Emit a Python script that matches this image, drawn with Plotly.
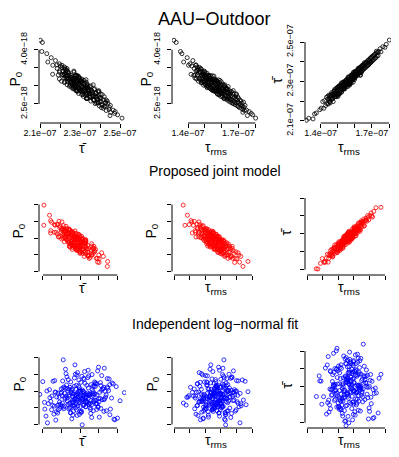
import numpy as np
import plotly.graph_objects as go

# ---------------- DATA (tau in ns, P0 in units of 1e-18) ----------------
# Row 1: measured (AAU-Outdoor)
meas_tau_rms = [131.6, 133.0, 135.5, 136.4, 137.4, 139.5, 140.3, 180.2, 178.4, 176.4, 175.3, 174.8, 177.6, 172.6,
    141.2, 141.8, 142.3, 142.9, 143.4, 143.7, 144.1, 144.5, 144.8, 145.0,
    145.3, 145.6, 145.9, 146.2, 146.4, 146.8, 147.1, 147.3, 147.6, 147.9,
    148.2, 148.4, 148.7, 148.9, 149.1, 149.3, 149.5, 149.7, 149.8, 150.0,
    150.2, 150.4, 150.5, 150.7, 150.9, 151.1, 151.3, 151.5, 151.6, 151.8,
    152.0, 152.2, 152.4, 152.6, 152.8, 153.0, 153.2, 153.4, 153.6, 153.8,
    154.0, 154.2, 154.5, 154.7, 154.9, 155.1, 155.3, 155.5, 155.7, 155.9,
    156.1, 156.3, 156.5, 156.7, 156.9, 157.1, 157.3, 157.5, 157.7, 157.9,
    158.1, 158.3, 158.5, 158.7, 158.9, 159.1, 159.3, 159.5, 159.7, 159.9,
    160.1, 160.4, 160.6, 160.8, 161.1, 161.3, 161.6, 161.8, 162.1, 162.3,
    162.6, 162.8, 163.0, 163.3, 163.5, 163.7, 164.0, 164.2, 164.4, 164.6,
    164.8, 165.0, 165.3, 165.6, 165.9, 166.2, 166.5, 166.8, 167.0, 167.3,
    167.5, 167.8, 168.0, 168.3, 168.6, 168.8, 169.1, 169.3, 169.5, 169.7,
    169.9, 170.0, 170.3, 170.6, 170.9, 171.2, 171.5, 171.8, 172.1, 172.4,
    172.7, 173.0, 173.3, 173.6, 173.9,
    146.7, 152.3, 158.6, 149.4, 161.9, 155.2, 144.9, 163.4, 150.8, 157.4,
    166.3, 153.5, 148.1, 159.8, 154.6, 162.7, 151.4, 156.0, 145.7, 160.3,
    147.2, 164.9, 152.9, 158.0, 150.1, 155.8, 167.8, 149.9, 161.2, 153.9,
    156.8, 146.1, 159.2, 163.9, 151.9, 157.9, 154.1, 148.6, 162.2, 155.4,
    160.9, 150.4, 165.6, 152.5, 157.0, 147.9, 158.9, 153.2, 161.5, 149.0,
    156.3, 168.7, 151.1, 159.5, 154.4, 164.3, 145.4, 157.6, 162.9, 150.6,
    155.6, 160.7, 148.9, 153.7, 166.9, 158.3, 152.1, 156.6, 144.2, 163.1,
    159.0, 151.7, 154.9, 161.7, 149.6, 157.2, 165.1, 153.0, 160.0, 147.5]
meas_tau_bar = [210.2, 211.2, 210.9, 213.4, 213.9, 215.6, 216.4, 251.0, 248.8, 247.6, 245.0, 246.6, 247.3, 245.3,
    219.7, 216.3, 220.2, 217.7, 221.9, 218.6, 222.4, 218.5, 223.0, 219.7,
    222.3, 219.1, 223.3, 220.7, 224.3, 221.1, 223.3, 219.7, 224.8, 222.2,
    225.4, 222.2, 224.0, 226.3, 222.2, 225.2, 223.1, 226.9, 223.6, 225.6,
    223.0, 226.9, 224.3, 227.7, 224.7, 226.8, 224.3, 228.1, 225.3, 227.3,
    224.5, 228.5, 225.7, 227.4, 229.2, 226.1, 228.4, 226.5, 229.9, 227.1,
    229.0, 226.3, 230.1, 227.8, 230.6, 228.1, 230.9, 228.4, 230.0, 231.9,
    228.7, 230.9, 229.0, 232.0, 229.8, 232.2, 229.3, 231.4, 233.1, 230.3,
    232.4, 230.9, 233.6, 231.1, 233.0, 231.4, 234.2, 231.7, 233.5, 232.2,
    234.6, 232.4, 234.9, 232.7, 235.4, 233.1, 235.5, 233.5, 236.2, 233.9,
    236.5, 234.3, 237.1, 234.7, 237.3, 235.1, 237.9, 235.4, 237.3, 235.8,
    238.4, 236.1, 238.7, 236.6, 239.0, 236.9, 239.5, 237.6, 239.9, 237.9,
    240.5, 238.4, 240.9, 238.8, 241.1, 239.2, 241.8, 239.6, 242.1, 239.9,
    242.3, 240.4, 242.8, 240.7, 243.1, 241.2, 243.6, 241.7, 244.0, 242.1,
    244.5, 242.8, 244.7, 243.1, 245.2,
    223.5, 224.6, 232.4, 223.4, 236.6, 227.4, 221.0, 233.2, 227.3, 230.4,
    239.1, 226.3, 225.8, 230.9, 229.3, 234.5, 227.4, 227.4, 221.4, 235.1,
    221.4, 237.8, 226.8, 233.0, 222.3, 230.7, 238.2, 227.0, 233.2, 228.3,
    228.4, 222.6, 234.7, 234.6, 226.5, 229.1, 229.7, 223.2, 236.0, 228.4,
    234.3, 223.6, 239.5, 227.3, 228.2, 224.9, 230.8, 228.3, 233.9, 222.3,
    232.3, 240.2, 223.7, 233.6, 227.7, 237.9, 219.8, 231.5, 233.0, 227.3,
    228.3, 233.6, 225.2, 226.0, 239.3, 231.1, 229.2, 228.7, 221.0, 237.0,
    229.6, 226.6, 230.6, 233.4, 225.7, 229.0, 236.7, 229.4, 231.7, 223.5]
meas_p0 = [4.26, 4.20, 3.95, 3.89, 3.66, 3.78, 3.57, 2.11, 2.20, 2.29, 2.18, 2.33, 2.24, 2.27,
    3.61, 3.32, 3.55, 3.70, 3.29, 3.48, 3.22, 3.58, 3.41, 3.19,
    3.52, 3.30, 3.44, 3.13, 3.36, 3.51, 3.20, 3.38, 3.15, 3.46,
    3.29, 3.09, 3.40, 3.18, 3.33, 3.02, 3.27, 3.41, 3.11, 3.24,
    3.36, 3.05, 3.21, 3.30, 2.99, 3.17, 3.35, 3.08, 3.23, 3.01,
    3.19, 3.28, 2.96, 3.12, 3.25, 3.03, 3.16, 2.92, 3.21, 3.07,
    2.95, 3.18, 3.03, 2.88, 3.14, 3.00, 3.19, 2.86, 3.08, 2.95,
    3.13, 2.84, 3.02, 3.15, 2.90, 3.06, 2.79, 2.97, 3.10, 2.85,
    3.01, 2.76, 2.93, 3.08, 2.82, 2.98, 2.87, 2.71, 3.03, 2.90,
    2.79, 2.95, 2.70, 2.86, 3.00, 2.77, 2.88, 2.65, 2.83, 2.96,
    2.71, 2.84, 2.62, 2.79, 2.92, 2.68, 2.81, 2.58, 2.74, 2.87,
    2.63, 2.77, 2.55, 2.72, 2.84, 2.60, 2.70, 2.51, 2.66, 2.79,
    2.57, 2.69, 2.48, 2.64, 2.76, 2.53, 2.62, 2.45, 2.70, 2.56,
    2.43, 2.66, 2.52, 2.40, 2.61, 2.47, 2.58, 2.38, 2.52, 2.44,
    2.35, 2.55, 2.41, 2.32, 2.46,
    3.19, 3.29, 2.75, 3.29, 3.03, 2.98, 3.57, 2.65, 3.21, 3.12,
    2.53, 3.20, 3.22, 3.11, 2.93, 2.90, 2.95, 3.19, 3.31, 2.79,
    3.41, 2.80, 2.94, 3.17, 3.12, 3.15, 2.53, 3.38, 2.66, 3.10,
    2.91, 3.47, 2.87, 2.98, 2.99, 3.05, 2.89, 3.28, 2.71, 3.27,
    2.84, 3.03, 2.84, 3.06, 3.15, 3.08, 2.99, 3.29, 2.65, 3.33,
    2.90, 2.78, 3.22, 2.78, 3.28, 2.69, 3.42, 2.77, 2.93, 3.17,
    2.86, 3.05, 3.11, 3.12, 2.87, 2.89, 3.27, 2.85, 3.30, 2.90,
    3.15, 3.16, 2.87, 3.00, 3.11, 2.96, 2.62, 3.22, 2.86, 3.48]

# Row 2: proposed joint model samples
model_tau_rms = [135.9, 137.0, 138.6, 139.8, 140.9, 141.7, 142.4, 143.0, 143.6, 144.1,
    144.7, 145.1, 145.6, 146.0, 146.4, 146.8, 147.1, 147.5, 147.8, 148.1,
    148.4, 148.7, 149.0, 149.2, 149.5, 149.7, 150.0, 150.2, 150.4, 150.7,
    150.9, 151.1, 151.3, 151.5, 151.7, 151.9, 152.1, 152.3, 152.5, 152.7,
    152.9, 153.0, 153.2, 153.4, 153.5, 153.7, 153.9, 154.0, 154.2, 154.4,
    154.5, 154.7, 154.8, 155.0, 155.2, 155.3, 155.5, 155.6, 155.8, 156.0,
    156.1, 156.3, 156.4, 156.6, 156.8, 156.9, 157.1, 157.2, 157.4, 157.6,
    157.7, 157.9, 158.0, 158.2, 158.4, 158.5, 158.7, 158.9, 159.0, 159.2,
    159.4, 159.6, 159.8, 160.0, 160.2, 160.4, 160.6, 160.8, 161.0, 161.2,
    161.4, 161.7, 161.9, 162.1, 162.4, 162.6, 162.9, 163.1, 163.4, 163.7,
    164.0, 164.3, 164.6, 164.9, 165.2, 165.6, 166.0, 166.4, 166.8, 167.3,
    167.8, 168.3, 168.9, 169.6, 170.3, 171.1, 172.0, 172.8, 174.2, 177.4,
    150.1, 151.0, 152.0, 153.1, 154.1, 155.1, 156.2, 157.0, 158.1, 159.1,
    160.1, 161.1, 162.0, 149.4, 147.3, 145.8, 163.9, 165.0, 157.5, 155.7,
    154.6, 153.6, 158.6, 160.5, 156.5, 152.6, 151.6, 159.9, 161.5, 168.0,
    153.4, 159.1, 148.2, 162.5, 156.8, 151.3, 164.7, 157.9, 146.6, 160.2,
    154.9, 166.5, 150.5, 158.7, 143.8, 155.6, 161.4, 152.2, 157.3, 169.2,
    149.3, 156.1, 163.3, 153.9, 159.6, 147.4, 155.0, 162.0, 151.8, 158.2,
    144.9, 160.8, 154.3, 157.6, 165.9, 150.0, 156.4, 161.9, 152.8, 159.4,
    148.7, 155.3, 163.8, 153.1, 158.9, 171.6, 151.0, 157.0, 160.5, 154.6,
    145.9, 162.8, 156.9, 149.8, 159.9, 152.5, 167.3, 155.9, 141.4, 158.4]
model_tau_bar = [210.5, 210.4, 213.5, 216.2, 214.1, 214.1, 216.5, 218.6, 214.2, 218.4,
    217.9, 220.7, 217.6, 220.2, 217.1, 220.0, 221.6, 219.9, 223.8, 219.2,
    222.1, 221.1, 224.1, 219.7, 223.4, 221.5, 222.8, 221.2, 225.6, 223.0,
    224.9, 220.7, 224.2, 222.7, 225.7, 223.6, 224.3, 226.4, 222.9, 225.6,
    222.5, 226.1, 225.0, 228.3, 224.4, 226.1, 223.8, 227.2, 225.3, 228.5,
    225.1, 226.6, 228.2, 224.1, 227.7, 226.5, 229.6, 225.7, 227.7, 226.6,
    229.5, 225.5, 228.4, 227.8, 231.0, 227.1, 228.7, 225.8, 229.9, 228.2,
    231.0, 227.5, 229.2, 230.8, 227.5, 230.4, 229.4, 232.5, 228.6, 230.7,
    228.1, 231.5, 229.9, 233.1, 229.7, 231.3, 233.0, 228.6, 232.3, 231.3,
    234.0, 231.2, 232.8, 230.2, 234.1, 232.9, 235.9, 231.7, 234.2, 233.0,
    235.9, 232.3, 234.9, 237.3, 233.9, 236.3, 235.4, 238.3, 234.5, 237.4,
    238.7, 237.0, 240.2, 237.8, 240.2, 241.6, 239.4, 242.5, 244.6, 244.8,
    224.3, 221.5, 225.1, 224.5, 228.5, 225.5, 227.8, 225.2, 230.2, 229.9,
    233.9, 230.1, 233.0, 219.5, 222.4, 218.4, 231.4, 236.4, 227.7, 229.2,
    226.0, 226.7, 227.4, 231.9, 230.8, 223.6, 224.1, 229.9, 233.5, 237.7,
    227.2, 227.5, 222.0, 232.2, 231.4, 222.2, 236.2, 228.9, 217.6, 233.4,
    225.7, 234.4, 225.0, 230.3, 216.2, 228.3, 229.0, 224.7, 226.9, 239.2,
    221.5, 230.3, 232.5, 227.2, 228.3, 222.1, 226.4, 234.6, 221.6, 229.8,
    219.0, 230.2, 229.0, 228.0, 236.9, 222.6, 225.9, 232.8, 226.5, 229.7,
    220.0, 227.8, 236.3, 222.0, 231.2, 240.0, 224.0, 226.3, 233.0, 225.2,
    221.4, 233.0, 229.2, 220.8, 230.9, 223.9, 237.4, 229.9, 214.6, 226.7]
model_p0 = [3.98, 3.38, 3.68, 3.40, 3.52, 3.15, 3.38, 3.50, 3.22, 3.03,
    3.41, 3.27, 3.12, 3.48, 3.17, 3.30, 3.01, 3.24, 3.15, 3.35,
    3.04, 3.37, 3.06, 3.17, 2.92, 3.27, 3.07, 3.20, 2.95, 3.28,
    2.83, 3.13, 3.21, 2.95, 3.06, 2.87, 3.25, 2.96, 3.11, 2.80,
    3.13, 2.92, 3.17, 2.98, 2.75, 3.10, 2.93, 3.21, 2.83, 2.99,
    3.11, 2.75, 3.02, 2.87, 3.14, 2.77, 2.95, 2.66, 3.05, 2.88,
    3.09, 2.79, 2.96, 2.66, 2.98, 2.80, 3.11, 2.72, 2.87, 3.02,
    2.66, 2.93, 2.78, 3.05, 2.70, 2.87, 2.61, 2.93, 2.77, 2.97,
    2.63, 2.86, 2.54, 2.92, 2.76, 2.65, 2.95, 2.66, 2.86, 2.54,
    2.78, 2.94, 2.58, 2.74, 2.48, 2.84, 2.63, 2.77, 2.49, 2.86,
    2.55, 2.76, 2.39, 2.68, 2.58, 2.76, 2.42, 2.66, 2.47, 2.75,
    2.39, 2.54, 2.27, 2.59, 2.38, 2.56, 2.28, 2.45, 2.15, 2.30,
    3.24, 2.89, 3.09, 2.73, 3.05, 3.19, 2.77, 2.90, 2.57, 3.04,
    2.67, 2.80, 2.89, 3.04, 3.35, 3.04, 2.67, 2.49, 2.98, 2.68,
    3.15, 2.84, 3.03, 2.58, 2.89, 3.10, 2.76, 2.88, 2.66, 2.62,
    2.78, 2.97, 3.21, 2.45, 2.99, 2.97, 2.83, 2.69, 3.40, 2.72,
    3.19, 2.45, 2.90, 2.89, 3.17, 3.05, 2.74, 2.81, 3.06, 2.39,
    3.23, 2.71, 2.82, 3.03, 2.67, 3.02, 3.16, 2.68, 3.13, 2.58,
    3.31, 2.92, 2.88, 2.65, 2.70, 3.25, 2.77, 2.92, 2.98, 2.86,
    2.97, 2.93, 2.50, 3.18, 2.74, 2.49, 3.27, 2.78, 2.52, 3.07,
    3.16, 2.73, 3.11, 3.00, 2.59, 3.05, 2.69, 2.75, 3.47, 2.96]

# Row 3: independent log-normal fit samples
indep_tau_rms = [161.3, 149.8, 157.2, 170.5, 152.6, 163.9, 145.1, 158.8, 166.4, 154.0,
    159.7, 148.3, 172.9, 156.1, 162.7, 151.2, 143.6, 160.4, 168.1, 155.5,
    157.9, 164.8, 147.0, 153.3, 175.6, 159.0, 150.7, 165.5, 141.8, 158.2,
    162.0, 154.8, 169.3, 146.5, 160.9, 156.7, 152.0, 163.4, 149.1, 171.7,
    157.5, 136.0, 161.8, 155.0, 166.9, 151.6, 159.4, 144.7, 164.2, 158.6,
    153.9, 167.6, 148.8, 162.3, 156.4, 173.8, 150.3, 160.1, 145.9, 157.0,
    163.1, 152.9, 168.7, 155.8, 159.9, 147.6, 165.0, 154.3, 161.0, 139.5,
    158.0, 170.0, 151.9, 163.7, 149.5, 156.9, 166.1, 153.6, 160.6, 144.1,
    157.7, 162.5, 150.0, 167.2, 155.3, 177.4, 159.2, 148.0, 164.5, 152.3,
    161.5, 146.2, 169.8, 156.2, 158.4, 143.0, 163.0, 154.6, 171.2, 150.9,
    160.3, 157.3, 165.8, 149.4, 162.9, 155.7, 147.9, 168.4, 153.1, 159.6,
    142.5, 164.0, 156.0, 174.5, 151.4, 161.6, 158.9, 145.4, 166.7, 152.7,
    160.0, 154.2, 170.8, 148.6, 157.8, 163.6, 150.5, 138.2, 165.3, 155.2,
    159.8, 167.9, 146.8, 161.1, 153.4, 172.3, 157.1, 149.0, 162.2, 156.5,
    144.4, 164.6, 151.0, 158.3, 169.0, 154.9, 160.7, 147.3, 163.3, 155.9,
    155.4, 163.2, 148.9, 159.5, 170.1, 152.8, 157.6, 145.8, 161.9, 154.7,
    166.0, 150.2, 158.9, 162.6, 147.2, 156.3, 173.1, 153.5, 160.2, 143.3,
    157.0, 164.4, 151.5, 159.2, 168.5, 155.1, 149.7, 161.3, 137.8, 156.8,
    163.8, 152.1, 158.1, 146.3, 165.2, 154.4, 160.9, 150.8, 157.4, 171.0,
    153.0, 159.7, 144.9, 162.1, 155.7, 167.1, 149.2, 158.5, 152.4, 176.2,
    156.1, 161.4, 147.8, 154.0, 163.5, 140.6, 157.9, 165.7, 151.3, 159.0,
    154.5, 169.4, 148.4, 160.5, 156.6, 146.9, 162.9, 153.8, 158.3, 150.4,
    164.1, 155.9, 143.9, 161.1, 157.3, 152.6, 167.8, 159.9, 149.0, 155.0,
    160.0, 145.1, 163.0, 156.4, 151.8, 172.4, 158.7, 153.2, 166.4, 148.1,
    157.1, 161.7, 139.0, 154.8, 164.8, 150.9, 159.3, 155.6, 162.4, 147.5]
indep_tau_bar = [226.4, 238.9, 221.3, 233.7, 229.0, 244.6, 217.8, 231.5, 236.2, 224.1,
    241.8, 228.3, 212.9, 235.0, 230.6, 222.7, 246.9, 227.5, 239.4, 219.6,
    232.8, 225.3, 248.7, 230.1, 215.4, 237.3, 223.8, 234.4, 240.5, 227.0,
    220.9, 243.1, 229.7, 236.8, 214.2, 231.9, 226.0, 238.2, 218.7, 233.1,
    245.3, 224.6, 230.9, 208.3, 235.7, 221.9, 242.7, 228.8, 216.5, 239.9,
    227.9, 232.3, 250.1, 223.2, 237.9, 229.3, 219.1, 234.9, 225.7, 241.2,
    231.1, 213.7, 236.5, 226.8, 244.0, 222.4, 233.5, 228.1, 247.8, 220.3,
    235.4, 230.3, 217.2, 240.8, 224.9, 232.0, 253.8, 227.2, 238.6, 215.9,
    229.5, 243.7, 221.0, 234.1, 226.2, 237.0, 211.6, 231.4, 245.9, 223.5,
    239.1, 228.6, 218.2, 233.9, 230.0, 242.2, 225.0, 236.0, 220.6, 231.7,
    227.7, 249.4, 224.3, 235.2, 216.9, 232.6, 240.2, 229.9, 222.1, 238.4,
    214.8, 230.7, 244.9, 226.6, 234.6, 219.9, 237.6, 228.4, 241.5, 223.0,
    232.2, 210.8, 236.9, 225.5, 243.4, 229.2, 218.5, 233.3, 227.4, 246.3,
    221.6, 235.9, 230.4, 239.6, 224.0, 212.4, 231.2, 240.0, 226.9, 234.7,
    220.0, 237.1, 228.0, 242.9, 223.9, 232.4, 216.1, 238.0, 229.6, 225.8,
    233.8, 222.0, 239.7, 227.6, 216.3, 231.0, 244.1, 225.2, 235.9, 219.4,
    228.9, 241.6, 224.7, 236.7, 230.8, 213.5, 226.3, 247.2, 232.5, 221.2,
    238.1, 229.4, 218.0, 234.3, 225.9, 242.8, 231.6, 223.3, 236.1, 209.9,
    228.2, 240.3, 220.7, 233.0, 226.5, 245.6, 230.2, 217.4, 237.5, 224.2,
    231.8, 214.6, 239.0, 227.3, 235.3, 222.9, 251.5, 229.0, 219.8, 234.8,
    226.1, 243.0, 230.5, 216.8, 237.2, 224.5, 232.9, 221.7, 240.9, 228.7,
    235.6, 212.1, 227.9, 238.7, 223.6, 231.3, 246.0, 225.6, 233.6, 218.9,
    229.8, 241.1, 222.6, 236.4, 227.1, 215.2, 232.1, 244.6, 226.4, 234.0,
    220.4, 238.5, 230.6, 224.8, 242.3, 228.5, 217.9, 235.0, 231.9, 223.1,
    239.3, 226.8, 233.2, 211.0, 229.1, 237.8, 221.5, 232.7, 248.2, 227.8]
indep_p0 = [2.91, 2.45, 3.12, 2.68, 2.83, 3.37, 2.57, 2.99, 2.21, 3.05,
    2.74, 3.48, 2.62, 2.88, 2.36, 3.18, 2.79, 2.50, 3.60, 2.93,
    2.66, 3.02, 2.14, 2.85, 3.29, 2.71, 2.47, 3.09, 2.96, 2.59,
    3.93, 2.77, 2.40, 3.14, 2.69, 2.87, 2.28, 3.24, 2.81, 2.53,
    3.01, 2.64, 3.44, 2.90, 2.33, 2.76, 3.11, 2.56, 2.97, 3.71,
    2.61, 2.84, 2.19, 3.07, 2.73, 3.33, 2.48, 2.92, 2.67, 3.16,
    1.99, 2.80, 3.04, 2.55, 2.89, 3.52, 2.70, 2.43, 3.21, 2.86,
    2.63, 3.00, 2.38, 2.78, 3.27, 2.58, 2.95, 3.78, 2.72, 2.31,
    3.10, 2.82, 2.52, 3.40, 2.65, 2.98, 2.25, 2.75, 3.19, 2.60,
    2.88, 3.55, 2.44, 2.94, 2.69, 3.06, 2.35, 2.83, 3.30, 2.57,
    2.76, 3.13, 2.49, 2.90, 2.13, 3.23, 2.68, 2.97, 3.65, 2.62,
    2.85, 2.40, 3.08, 2.73, 3.45, 2.54, 2.92, 2.27, 3.02, 2.79,
    3.35, 2.66, 2.87, 2.17, 2.99, 3.15, 2.59, 2.81, 3.50, 2.46,
    2.93, 2.71, 3.26, 2.52, 2.84, 2.05, 3.03, 2.77, 3.39, 2.64,
    2.96, 2.41, 3.17, 2.74, 2.88, 3.58, 2.55, 2.91, 2.30, 3.07,
    2.66, 3.08, 2.52, 2.89, 3.31, 2.74, 2.41, 2.97, 3.19, 2.60,
    2.83, 3.46, 2.35, 2.92, 2.70, 3.04, 2.56, 3.24, 2.80, 2.47,
    3.13, 2.65, 2.94, 3.62, 2.73, 2.39, 2.86, 3.01, 2.58, 3.28,
    2.76, 2.22, 3.09, 2.69, 2.91, 3.36, 2.54, 2.82, 3.15, 2.63,
    2.98, 2.44, 3.21, 2.78, 2.50, 3.42, 2.71, 2.90, 3.06, 2.59,
    2.84, 3.68, 2.37, 2.96, 2.68, 3.11, 2.53, 2.81, 3.25, 2.72,
    2.45, 3.00, 2.87, 2.61, 3.34, 2.77, 2.29, 2.93, 3.17, 2.67,
    3.03, 2.48, 2.85, 3.49, 2.75, 2.57, 2.95, 3.12, 2.40, 2.88,
    2.64, 3.22, 2.79, 2.51, 3.07, 2.93, 2.34, 2.86, 3.38, 2.70,
    2.62, 3.14, 2.82, 2.46, 2.99, 3.27, 2.55, 2.90, 2.16, 3.05]

# Tick values (ns / 1e-18 units)
ticks_r1 = {"tb": [210, 220, 230, 240, 250], "tr": [140, 150, 160, 170, 180], "p0": [2.5, 3.0, 3.5, 4.0]}
ticks_r23 = {"tb": [210, 220, 230, 240, 250], "tr": [130, 140, 150, 160, 170, 180], "p0": [2.0, 2.5, 3.0, 3.5, 4.0]}

main_title = "AAU\u2212Outdoor"
row_titles = [None, "Proposed joint model", "Independent log\u2212normal fit"]

# ---------------- FIGURE ----------------
NS = 1e-9
PU = 1e-18
W, H = 399, 457
FONT = "Liberation Sans, Arial, Helvetica, sans-serif"

def fx(p):
    return p / W

def fy(p):
    return 1 - p / H

def lab(v):
    return f"{v:.1e}".replace("-", "\u2212")

TAUBAR = "\u03c4\u0304"
TAURMS = "\u03c4<sub>rms</sub>"
P0LAB = "P<sub>0</sub>"

rows = [
    dict(tb=meas_tau_bar, tr=meas_tau_rms, p0=meas_p0, color="#000000", ticks=ticks_r1,
         ranges=[([209.5, 253.0], [1.975, 4.378]), ([130.49, 182.2], [1.975, 4.378]), ([130.8, 181.76], [208.83, 253.05])],
         shown=[([0, 2, 4], [0, 3]), ([0, 3], [0, 3]), ([0, 3], [0, 2, 4])]),
    dict(tb=model_tau_bar, tr=model_tau_rms, p0=model_p0, color="#FF0000", ticks=ticks_r23,
         ranges=[([207.85, 254.68], [1.8955, 4.4925]), ([128.72, 184.49], [1.8955, 4.4925]), ([128.72, 184.49], [207.04, 255.58])],
         shown=None),
    dict(tb=indep_tau_bar, tr=indep_tau_rms, p0=indep_p0, color="#0000FF", ticks=ticks_r23,
         ranges=[([207.85, 254.68], [1.8955, 4.4925]), ([128.72, 184.49], [1.8955, 4.4925]), ([128.72, 184.49], [207.04, 255.58])],
         shown=None),
]
# panel c: (x variable, y variable)
pairs = [("tb", "p0"), ("tr", "p0"), ("tr", "tb")]
scale = {"tb": NS, "tr": NS, "p0": PU}
names = {"tb": TAUBAR, "tr": TAURMS, "p0": P0LAB}

col_left = [31, 164, 297]
row_bottom = [115, 267, 420]
PW, PH = 87, 87
xtitle_y = [140, 280, 433]
ytitle_x = [[8, 139, 269], [11, 144, 278], [11, 144, 278]]

fig = go.Figure()
layout = dict(width=W, height=H, margin=dict(l=0, r=0, t=0, b=0, autoexpand=False),
              paper_bgcolor="white", plot_bgcolor="white", showlegend=False,
              font=dict(family=FONT, color="black"))
shapes = []
annotations = []

k = 0
for r, row in enumerate(rows):
    for c, (xv, yv) in enumerate(pairs):
        k += 1
        xs = np.array(row[xv]) * scale[xv]
        ys = np.array(row[yv]) * scale[yv]
        fig.add_trace(go.Scatter(x=xs, y=ys, mode="markers", xaxis=f"x{k}", yaxis=f"y{k}",
                                 marker=dict(symbol="circle-open", size=4, color=row["color"],
                                             line=dict(width=0.8, color=row["color"])),
                                 hoverinfo="skip"))
        xr, yr = row["ranges"][c]
        xt = list(np.array(row["ticks"][xv]) * scale[xv])
        yt = list(np.array(row["ticks"][yv]) * scale[yv])
        L = col_left[c]
        B = row_bottom[r]
        common = dict(showgrid=False, zeroline=False, showline=False, ticks="outside", ticklen=4,
                      tickwidth=1, tickcolor="black", tickfont=dict(size=9, family=FONT, color="black"),
                      fixedrange=True, automargin=False)
        if row["shown"] is not None:
            sx, sy = row["shown"][c]
            xmaj = [xt[i] for i in sx]
            ymaj = [yt[i] for i in sy]
            xax = dict(tickvals=xmaj, ticktext=[lab(v) for v in xmaj], showticklabels=True, ticklabelstandoff=-3,
                       minor=dict(tickvals=xt, ticks="outside", ticklen=4, tickwidth=1, tickcolor="black", showgrid=False))
            yax = dict(tickvals=ymaj, ticktext=[lab(v) for v in ymaj], showticklabels=True, ticklabelstandoff=3,
                       minor=dict(tickvals=yt, ticks="outside", ticklen=4, tickwidth=1, tickcolor="black", showgrid=False))
        else:
            xax = dict(tickvals=xt, showticklabels=False)
            yax = dict(tickvals=yt, showticklabels=False)
        layout[f"xaxis{k}"] = dict(domain=[fx(L), fx(L + PW)], anchor=f"y{k}",
                                   range=[xr[0] * scale[xv], xr[1] * scale[xv]], tickangle=0, **xax, **common)
        layout[f"yaxis{k}"] = dict(domain=[fy(B), fy(B - PH)], anchor=f"x{k}",
                                   range=[yr[0] * scale[yv], yr[1] * scale[yv]], tickangle=-90, **yax, **common)
        xref = "x" if k == 1 else f"x{k}"
        yref = "y" if k == 1 else f"y{k}"
        # R-style detached axis lines spanning first to last tick
        shapes.append(dict(type="line", xref=xref, yref=f"{yref} domain", x0=xt[0], x1=xt[-1], y0=0, y1=0,
                           line=dict(color="black", width=1)))
        shapes.append(dict(type="line", xref=f"{xref} domain", yref=yref, x0=0, x1=0, y0=yt[0], y1=yt[-1],
                           line=dict(color="black", width=1)))
        # axis titles
        annotations.append(dict(text=names[xv], x=fx(L + PW / 2), y=fy(xtitle_y[r]), xref="paper", yref="paper",
                                showarrow=False, xanchor="center", yanchor="middle",
                                font=dict(size=14, family=FONT, color="black")))
        annotations.append(dict(text=names[yv], x=fx(ytitle_x[r][c]), y=fy(B - PH / 2), xref="paper", yref="paper",
                                showarrow=False, xanchor="center", yanchor="middle", textangle=-90,
                                font=dict(size=14, family=FONT, color="black")))

annotations.append(dict(text=main_title, x=fx(206), y=fy(11), xref="paper", yref="paper", showarrow=False,
                        xanchor="center", yanchor="middle", font=dict(size=18, family=FONT, color="black")))
for r, t in enumerate(row_titles):
    if t:
        annotations.append(dict(text=t, x=fx(207), y=fy([0, 163, 316][r]), xref="paper", yref="paper",
                                showarrow=False, xanchor="center", yanchor="middle",
                                font=dict(size=14, family=FONT, color="black")))

layout["shapes"] = shapes
layout["annotations"] = annotations
fig.update_layout(**layout)
fig.write_html("out.html")
